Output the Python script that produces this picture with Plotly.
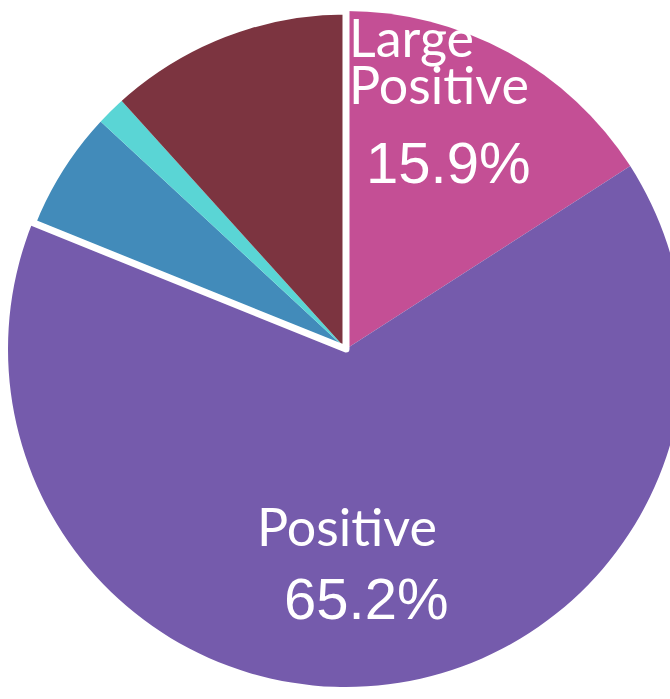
import plotly.graph_objects as go

# Sentiment shares, listed clockwise from 12 o'clock
labels = ["Large Positive", "Positive", "Neutral", "Negative", "Large Negative"]
shares = [15.9, 65.2, 5.8, 1.4, 11.7]
colors = ["#C44F95", "#755BAC", "#428BBA", "#5AD5D5", "#7C3440"]

# Slices that get their own caption
captioned = ["Large Positive", "Positive"]

W, H = 692, 699
cx, cy, r = 346, 349, 338  # pie centre and radius in px


def px_domain(cx, cy, r):
    return dict(
        x=[(cx - r) / W, (cx + r) / W],
        y=[1 - (cy + r) / H, 1 - (cy - r) / H],
    )


dom = px_domain(cx, cy, r)

fig = go.Figure()
fig.add_trace(go.Pie(
    labels=labels,
    values=shares,
    sort=False,
    direction="clockwise",
    rotation=0,
    marker=dict(colors=colors, line=dict(width=0)),
    textinfo="none",
    hoverinfo="label+percent",
    domain=dom,
    showlegend=False,
))

# White separator around the negative/neutral group
pos_total = sum(v for l, v in zip(labels, shares) if l in captioned)
rest_total = sum(v for l, v in zip(labels, shares) if l not in captioned)
fig.add_trace(go.Pie(
    labels=["positive group", "other group"],
    values=[pos_total, rest_total],
    sort=False,
    direction="clockwise",
    rotation=0,
    marker=dict(colors=["rgba(0,0,0,0)", "rgba(0,0,0,0)"],
                line=dict(color="white", width=[0, 7])),
    textinfo="none",
    hoverinfo="skip",
    domain=dom,
    showlegend=False,
))

share_of = dict(zip(labels, shares))
label_font = dict(family="Lato, sans-serif", size=52, color="white")
pct_font = dict(family="Liberation Sans, Arial, sans-serif", size=58, color="white")


def ann(text, x, y, font, xanchor="center"):
    fig.add_annotation(text=text, x=x / W, y=1 - y / H, xref="paper", yref="paper",
                       xanchor=xanchor, yanchor="middle", showarrow=False, font=font)


ann("Large", 347, 37, label_font, "left")
ann("Positive", 347, 84, label_font, "left")
ann(f"{share_of['Large Positive']:.1f}%", 448, 162, pct_font)
ann("Positive", 347, 526, label_font)
ann(f"{share_of['Positive']:.1f}%", 366, 598, pct_font)

fig.update_layout(
    width=W, height=H,
    margin=dict(l=0, r=0, t=0, b=0),
    paper_bgcolor="white",
    plot_bgcolor="white",
)

fig.write_html(
    "out.html",
    post_script="document.documentElement.style.overflow='hidden';"
                "document.body.style.overflow='hidden';document.body.style.margin='0';",
)
